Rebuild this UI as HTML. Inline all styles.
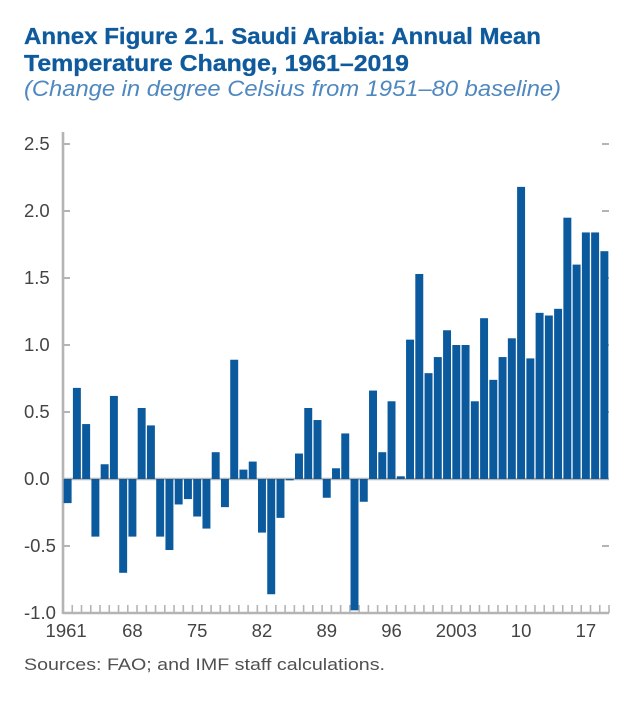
<!DOCTYPE html>
<html lang="en">
<head>
<meta charset="utf-8">
<title>Annex Figure 2.1. Saudi Arabia: Annual Mean Temperature Change, 1961–2019</title>
<style>
html,body{margin:0;padding:0;background:#fff;width:635px;height:702px;overflow:hidden}
svg{display:block;font-family:"Liberation Sans",sans-serif;filter:blur(0.35px)}
</style>
</head>
<body>
<svg id="chart" width="635" height="702" viewBox="0 0 635 702" xmlns="http://www.w3.org/2000/svg">
  <text x="24" y="44" font-size="23" font-weight="700" fill="#0f5a9c" stroke="#0f5a9c" stroke-width="0.3" textLength="517" lengthAdjust="spacingAndGlyphs">Annex Figure 2.1. Saudi Arabia: Annual Mean</text>
  <text x="24" y="71" font-size="23" font-weight="700" fill="#0f5a9c" stroke="#0f5a9c" stroke-width="0.3" textLength="385" lengthAdjust="spacingAndGlyphs">Temperature Change, 1961–2019</text>
  <text x="24" y="96" font-size="22" font-style="italic" fill="#4f88bf" textLength="537" lengthAdjust="spacingAndGlyphs">(Change in degree Celsius from 1951–80 baseline)</text>
  <g id="axes"></g>
  <g id="bars"></g>
  <text x="24" y="670" font-size="17" fill="#505050" textLength="361" lengthAdjust="spacingAndGlyphs">Sources: FAO; and IMF staff calculations.</text>
</svg>
<script>
const startYear = 1961;
const values = [
  -0.18, 0.68, 0.41, -0.43, 0.11, 0.62, -0.70, -0.43, 0.53, 0.40,
  -0.43, -0.53, -0.19, -0.15, -0.28, -0.37, 0.20, -0.21, 0.89, 0.07,
  0.13, -0.40, -0.86, -0.29, -0.01, 0.19, 0.53, 0.44, -0.14, 0.08,
  0.34, -0.98, -0.17, 0.66, 0.20, 0.58, 0.02, 1.04, 1.53, 0.79,
  0.91, 1.11, 1.00, 1.00, 0.58, 1.20, 0.74, 0.91, 1.05, 2.18,
  0.90, 1.24, 1.22, 1.27, 1.95, 1.60, 1.84, 1.84, 1.70
];
const yTicks = [2.5, 2.0, 1.5, 1.0, 0.5, 0.0, -0.5, -1.0];
const yTickLabels = ["2.5", "2.0", "1.5", "1.0", "0.5", "0.0", "-0.5", "-1.0"];
const xTickYears = [1961, 1968, 1975, 1982, 1989, 1996, 2003, 2010, 2017];
const xTickLabels = ["1961", "68", "75", "82", "89", "96", "2003", "10", "17"];

const NS = "http://www.w3.org/2000/svg";
const plot = { left: 63, right: 609, y25: 144, y10n: 613 };
const yScale = function (v) {
  return plot.y25 + (2.5 - v) * (plot.y10n - plot.y25) / 3.5;
};
const step = (plot.right - plot.left) / values.length;
const xEdge = function (i) { return plot.left + i * step; };
const axes = document.getElementById("axes");
const bars = document.getElementById("bars");

function make(tag, parent, props, text) {
  const el = document.createElementNS(NS, tag);
  Object.keys(props).forEach(function (k) { el.setAttribute(k, props[k]); });
  if (text !== undefined) el.textContent = text;
  parent.appendChild(el);
  return el;
}

const grey = "#b4b4b4";

yTicks.forEach(function (t, i) {
  const y = yScale(t);
  const left = make("line", axes, { x1: plot.left, x2: plot.left + 7, y1: y, y2: y, stroke: grey, "stroke-width": 2 });
  
  
  const right = make("line", axes, { x1: plot.right - 7, x2: plot.right, y1: y, y2: y, stroke: grey, "stroke-width": 2 });
  
  
  const label = make("text", axes, { x: 24, y: y + 6, "font-size": 18.5, fill: "#444444" }, yTickLabels[i]);
  
  
});

for (let i = 0; i <= values.length; i++) {
  const x = xEdge(i);
  const tick = make("line", axes, { x1: x, x2: x, y1: plot.y10n - 8, y2: plot.y10n, stroke: grey, "stroke-width": 1.6 });
  
  
}

xTickYears.forEach(function (year, i) {
  const x = xEdge(year - startYear + 0.5);
  const label = make("text", axes, { x: i === 0 ? x - 1.5 : x, y: 637, "font-size": 18.5, fill: "#444444", "text-anchor": "middle" }, xTickLabels[i]);
  
  
});

const yAxis = make("line", axes, { x1: plot.left, x2: plot.left, y1: 132, y2: plot.y10n + 1, stroke: grey, "stroke-width": 2.6 });



const xAxis = make("line", axes, { x1: plot.left, x2: plot.right, y1: plot.y10n, y2: plot.y10n, stroke: grey, "stroke-width": 2.6 });



const zeroLine = make("line", axes, { x1: plot.left, x2: plot.right, y1: yScale(0), y2: yScale(0), stroke: grey, "stroke-width": 2.4 });



values.forEach(function (v, i) {
  const y0 = yScale(0);
  const yv = yScale(v);
  const rect = make("rect", bars, {
    x: xEdge(i) + 0.65,
    y: Math.min(y0, yv),
    width: step - 1.3,
    height: Math.abs(yv - y0),
    fill: "#0b5a9e"
  });
  
  
});
</script>
</body>
</html>
